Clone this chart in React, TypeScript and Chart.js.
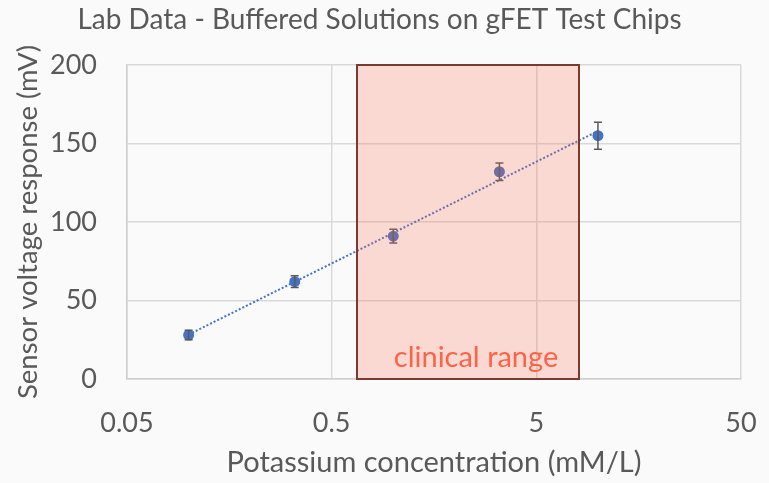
import React, { useEffect, useRef } from "react";
import { Chart, registerables } from "chart.js";

Chart.register(...registerables);

// ---- data ----
const concentrations = [0.1, 0.33, 1, 3.3, 10];
const responses = [28, 62, 91, 132, 155];
const errors = [3, 3.7, 4.4, 5.6, 8.6];
const trendX = [0.1, 10];
const trendY = [28.3, 157.9];
const xTicks = [0.05, 0.5, 5, 50];
const yTicks = [0, 50, 100, 150, 200];
const clinicalRange = [0.665, 8.08];
const clinicalLabel = "clinical range";
const chartTitle = "Lab Data - Buffered Solutions on gFET Test Chips";
const xTitle = "Potassium concentration (mM/L)";
const yTitle = "Sensor voltage response (mV)";

const FONT = "Lato, 'Open Sans', sans-serif";
const TEXT = "#595959";
const BLUE = "#4472C4";

const overlayPlugin = {
  id: "overlay",
  afterDatasetsDraw(chart: any) {
    const { ctx, scales, chartArea } = chart;
    const x = scales.x;
    const y = scales.y;
    ctx.save();
    // error bars
    ctx.strokeStyle = "#595959";
    ctx.lineWidth = 1.5;
    concentrations.forEach((c, i) => {
      const px = x.getPixelForValue(c);
      const top = y.getPixelForValue(responses[i] + errors[i]);
      const bot = y.getPixelForValue(responses[i] - errors[i]);
      ctx.beginPath();
      ctx.moveTo(px, top);
      ctx.lineTo(px, bot);
      ctx.moveTo(px - 4, top);
      ctx.lineTo(px + 4, top);
      ctx.moveTo(px - 4, bot);
      ctx.lineTo(px + 4, bot);
      ctx.stroke();
    });
    // clinical range
    const l = x.getPixelForValue(clinicalRange[0]);
    const r = x.getPixelForValue(clinicalRange[1]);
    const t = chartArea.top;
    const b = chartArea.bottom;
    ctx.fillStyle = "rgba(255,103,77,0.225)";
    ctx.fillRect(l, t, r - l, b - t);
    ctx.strokeStyle = "#7a3a2e";
    ctx.lineWidth = 2;
    ctx.strokeRect(l, t, r - l, b - t);
    ctx.fillStyle = "#FF6347";
    ctx.font = `29px ${FONT}`;
    ctx.textAlign = "center";
    ctx.textBaseline = "alphabetic";
    ctx.fillText(clinicalLabel, (l + r) / 2 + 8, b - 12);
    ctx.restore();
  },
};

export default function App() {
  const ref = useRef<HTMLCanvasElement>(null);
  useEffect(() => {
    if (!ref.current) return;
    const chart = new Chart(ref.current, {
      type: "scatter",
      data: {
        datasets: [
          {
            label: "trend",
            data: trendX.map((v, i) => ({ x: v, y: trendY[i] })),
            showLine: true,
            borderColor: BLUE,
            borderWidth: 2,
            borderDash: [2, 2],
            pointRadius: 0,
            fill: false,
          },
          {
            label: "measured",
            data: concentrations.map((v, i) => ({ x: v, y: responses[i] })),
            backgroundColor: BLUE,
            borderColor: BLUE,
            pointRadius: 5.5,
            borderWidth: 0,
          },
        ],
      },
      options: {
        animation: false,
        responsive: false,
        layout: { padding: { left: 18, right: 28, top: 0, bottom: 0 } },
        plugins: {
          legend: { display: false },
          tooltip: { enabled: false },
          title: {
            display: true,
            text: chartTitle,
            color: TEXT,
            font: { family: FONT, size: 28, weight: "normal" },
            padding: { top: 3, bottom: 28.4 },
          },
        },
        scales: {
          x: {
            type: "logarithmic",
            min: 0.05,
            max: 50,
            afterBuildTicks: (scale: any) => {
              scale.ticks = xTicks.map((v) => ({ value: v }));
            },
            afterFit: (scale: any) => {
              scale.height = 104;
              scale.paddingLeft = 0;
              scale.paddingRight = 0;
            },
            ticks: {
              color: TEXT,
              font: { family: FONT, size: 27 },
              padding: 28,
              autoSkip: false,
              maxRotation: 0,
              callback: (v: any) => String(v),
            },
            grid: { color: "#d9d9d9", lineWidth: 1.5, drawTicks: false },
            border: { color: "#cfcfcf", width: 1.5 },
            title: {
              display: true,
              text: xTitle,
              color: TEXT,
              font: { family: FONT, size: 29 },
              padding: { top: 0, bottom: 3 },
            },
          },
          y: {
            min: 0,
            max: 200,
            afterBuildTicks: (scale: any) => {
              scale.ticks = yTicks.map((v) => ({ value: v }));
            },
            afterFit: (scale: any) => {
              scale.width = 109;
              scale.paddingTop = 0;
              scale.paddingBottom = 0;
            },
            ticks: {
              color: TEXT,
              font: { family: FONT, size: 27 },
              padding: 30,
            },
            grid: { color: "#d9d9d9", lineWidth: 1.5, drawTicks: false },
            border: { color: "#cfcfcf", width: 1.5 },
            title: {
              display: true,
              text: yTitle,
              color: TEXT,
              font: { family: FONT, size: 27.5 },
              padding: { top: -6.5, bottom: 0 },
            },
          },
        },
      },
      plugins: [overlayPlugin],
    } as any);
    return () => chart.destroy();
  }, []);
  return (
    <div
      style={{
        position: "absolute",
        left: 0,
        top: 0,
        width: 769,
        height: 483,
        background: "#fafafa",
      }}
    >
      <canvas ref={ref} width={769} height={483} style={{ width: 769, height: 483 }} />
    </div>
  );
}
